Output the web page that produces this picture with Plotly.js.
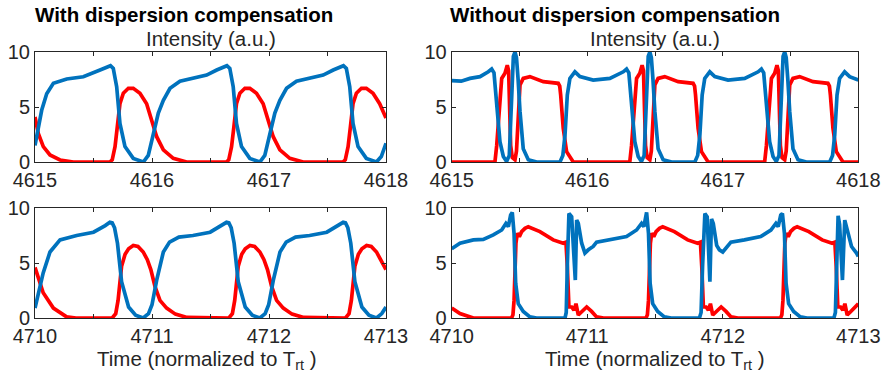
<!DOCTYPE html>
<html>
<head>
<meta charset="utf-8">
<script src="https://cdn.plot.ly/plotly-3.0.1.min.js"></script>
<style>
html,body{margin:0;padding:0;background:#fff;}
#chart{width:889px;height:377px;}
</style>
</head>
<body>
<div id="chart"></div>
<script>
// ---------- Data ----------
// Top-left: with compensation, t = 4615..4618
const tlBlueT = [4615.000,4615.028,4615.057,4615.100,4615.157,4615.271,4615.413,4615.556,4615.620,4615.645,4615.669,4615.698,4615.726,4615.769,4615.840,4615.926,4615.968,4616.011,4616.054,4616.097,4616.154,4616.239,4616.353,4616.467,4616.553,4616.615,4616.640,4616.665,4616.694,4616.722,4616.765,4616.836,4616.922,4616.964,4617.007,4617.050,4617.093,4617.150,4617.235,4617.349,4617.463,4617.549,4617.611,4617.636,4617.661,4617.690,4617.718,4617.761,4617.832,4617.918,4617.960,4618.000];
const tlBlueY = [1.5,3.2,4.7,6.2,7.15,7.55,7.75,8.36,8.7,8.75,8.5,6.85,3.5,1.4,0.33,0,0.6,2.45,4.45,5.6,6.7,7.35,7.6,7.9,8.36,8.7,8.75,8.5,6.85,3.5,1.4,0.33,0,0.6,2.45,4.45,5.6,6.7,7.35,7.6,7.9,8.36,8.7,8.75,8.5,6.85,3.5,1.4,0.33,0,0.5,1.7];
const tlRedT = [4615.000,4615.028,4615.071,4615.128,4615.214,4615.328,4615.640,4615.660,4615.684,4615.704,4615.726,4615.755,4615.798,4615.840,4615.897,4615.954,4615.997,4616.040,4616.097,4616.182,4616.296,4616.636,4616.656,4616.680,4616.700,4616.722,4616.751,4616.794,4616.836,4616.893,4616.950,4616.993,4617.036,4617.093,4617.178,4617.292,4617.632,4617.652,4617.676,4617.696,4617.718,4617.747,4617.790,4617.832,4617.889,4617.946,4618.000];
const tlRedY = [4.1,2.6,1.4,0.64,0.18,0,0,0.2,1.4,3.2,5.3,6.25,6.7,6.7,6.25,5.3,3.8,2.3,1.1,0.33,0,0,0.2,1.4,3.2,5.3,6.25,6.7,6.7,6.25,5.3,3.8,2.3,1.1,0.33,0,0,0.2,1.4,3.2,5.3,6.25,6.7,6.7,6.25,5.3,4.0];

// Bottom-left: with compensation, t = 4710..4713
const blBlueT = [4710.000,4710.030,4710.070,4710.128,4710.214,4710.356,4710.500,4710.600,4710.640,4710.660,4710.680,4710.705,4710.740,4710.800,4710.860,4710.925,4710.970,4711.000,4711.040,4711.097,4711.150,4711.230,4711.350,4711.497,4711.597,4711.637,4711.657,4711.677,4711.702,4711.737,4711.797,4711.857,4711.922,4711.967,4711.997,4712.037,4712.094,4712.147,4712.227,4712.347,4712.494,4712.594,4712.634,4712.654,4712.674,4712.699,4712.734,4712.794,4712.854,4712.919,4712.964,4713.000];
const blBlueY = [0.9,2.3,4.1,6.0,7.1,7.5,7.8,8.4,8.7,8.65,8.2,6.8,3.3,1.0,0.25,0,0.4,1.2,3.45,6.0,6.9,7.35,7.5,7.8,8.4,8.7,8.65,8.2,6.8,3.3,1.0,0.25,0,0.4,1.2,3.45,6.0,6.9,7.35,7.5,7.8,8.4,8.7,8.65,8.2,6.8,3.3,1.0,0.25,0,0.4,1.0];
const blRedT = [4710.000,4710.035,4710.070,4710.157,4710.270,4710.350,4710.660,4710.690,4710.710,4710.740,4710.770,4710.800,4710.840,4710.880,4710.925,4710.960,4710.990,4711.026,4711.068,4711.125,4711.200,4711.300,4711.657,4711.687,4711.707,4711.737,4711.767,4711.797,4711.837,4711.877,4711.922,4711.957,4711.987,4712.023,4712.065,4712.122,4712.197,4712.297,4712.654,4712.684,4712.704,4712.734,4712.764,4712.794,4712.834,4712.874,4712.919,4712.954,4713.000];
const blRedY = [4.6,3.3,2.3,0.9,0.1,0,0,0.4,1.6,4.7,5.8,6.3,6.6,6.5,6.0,5.3,4.4,2.85,1.6,0.9,0.35,0.05,0,0.4,1.6,4.7,5.8,6.3,6.6,6.5,6.0,5.3,4.4,2.85,1.6,0.9,0.35,0.05,0,0.4,1.6,4.7,5.8,6.3,6.6,6.5,6.0,5.3,4.4];

// Top-right: without compensation, t = 4615..4618
const trBlueT = [4615.000,4615.070,4615.135,4615.209,4615.270,4615.295,4615.312,4615.332,4615.356,4615.381,4615.405,4615.425,4615.434,4615.442,4615.455,4615.467,4615.478,4615.490,4615.504,4615.528,4615.565,4615.627,4615.799,4615.820,4615.836,4615.853,4615.872,4615.909,4615.946,4616.044,4616.167,4616.266,4616.290,4616.307,4616.327,4616.351,4616.376,4616.400,4616.420,4616.429,4616.437,4616.450,4616.462,4616.473,4616.485,4616.499,4616.523,4616.560,4616.622,4616.794,4616.815,4616.831,4616.848,4616.867,4616.904,4616.941,4617.039,4617.162,4617.261,4617.285,4617.302,4617.322,4617.346,4617.371,4617.395,4617.415,4617.424,4617.432,4617.445,4617.457,4617.468,4617.480,4617.494,4617.518,4617.555,4617.617,4617.789,4617.810,4617.826,4617.843,4617.862,4617.899,4617.936,4618.000];
const trBlueY = [7.4,7.35,7.6,7.76,8.2,8.45,8.1,5.2,1.85,0.5,0.05,0.6,3.5,7.6,9.6,10,9.5,7.5,4.6,1.2,0.2,0,0,0.6,2.45,6.1,7.6,8.2,7.76,7.45,7.6,8.2,8.45,8.1,5.2,1.85,0.5,0.05,0.6,3.5,7.6,9.6,10,9.5,7.5,4.6,1.2,0.2,0,0,0.6,2.45,6.1,7.6,8.2,7.76,7.45,7.6,8.2,8.45,8.1,5.2,1.85,0.5,0.05,0.6,3.5,7.6,9.6,10,9.5,7.5,4.6,1.2,0.2,0,0,0.6,2.45,6.1,7.6,8.2,7.76,7.45];
const trRedT = [4615.000,4615.319,4615.332,4615.351,4615.369,4615.393,4615.410,4615.420,4615.428,4615.435,4615.447,4615.467,4615.478,4615.486,4615.504,4615.528,4615.577,4615.676,4615.786,4615.797,4615.804,4615.823,4615.848,4615.897,4616.314,4616.327,4616.346,4616.364,4616.388,4616.405,4616.415,4616.423,4616.430,4616.442,4616.462,4616.473,4616.481,4616.499,4616.523,4616.572,4616.671,4616.781,4616.792,4616.799,4616.818,4616.843,4616.892,4617.309,4617.322,4617.341,4617.359,4617.383,4617.400,4617.410,4617.418,4617.425,4617.437,4617.457,4617.468,4617.476,4617.494,4617.518,4617.567,4617.666,4617.776,4617.787,4617.794,4617.813,4617.838,4617.887,4618.000];
const trRedY = [0,0,1.5,5.2,7.6,8.06,8.8,8.3,5.0,1.5,0.4,0.2,1.0,3.1,7.0,7.6,7.76,7.3,7.15,6.9,6.1,3.06,0.94,0,0,1.5,5.2,7.6,8.06,8.8,8.3,5.0,1.5,0.4,0.2,1.0,3.1,7.0,7.6,7.76,7.3,7.15,6.9,6.1,3.06,0.94,0,0,1.5,5.2,7.6,8.06,8.8,8.3,5.0,1.5,0.4,0.2,1.0,3.1,7.0,7.6,7.76,7.3,7.15,6.9,6.1,3.06,0.94,0,0];

// Bottom-right: without compensation, t = 4710..4713
const brBlueT = [4710.000,4710.061,4710.160,4710.233,4710.307,4710.369,4710.400,4710.418,4710.435,4710.447,4710.460,4710.472,4710.491,4710.528,4710.577,4710.627,4710.836,4710.845,4710.853,4710.865,4710.885,4710.902,4710.912,4710.922,4710.934,4710.959,4710.983,4711.008,4711.044,4711.069,4711.167,4711.290,4711.364,4711.401,4711.418,4711.430,4711.438,4711.452,4711.464,4711.483,4711.520,4711.569,4711.619,4711.828,4711.840,4711.851,4711.868,4711.885,4711.897,4711.905,4711.917,4711.930,4711.955,4711.975,4712.000,4712.030,4712.060,4712.160,4712.280,4712.355,4712.392,4712.409,4712.428,4712.440,4712.455,4712.467,4712.486,4712.523,4712.572,4712.622,4712.820,4712.831,4712.840,4712.851,4712.862,4712.869,4712.883,4712.900,4712.925,4712.950,4712.987,4713.000];
const brBlueY = [6.3,6.8,7.1,7.15,7.55,8.0,8.6,8.3,9.36,9.6,7.7,3.15,1.3,0.6,0.1,0,0,0.5,4.7,9.5,9.2,5.3,3.45,8.9,8.6,6.8,5.9,6.2,6.5,6.9,7.1,7.4,8.0,8.6,8.3,9.36,9.6,7.7,3.15,1.3,0.6,0.1,0,0,0.5,4.7,9.5,9.2,5.3,3.3,9.0,8.6,6.6,6.2,6.0,6.5,6.9,7.1,7.4,8.0,8.6,8.3,9.36,9.5,7.7,3.15,1.3,0.6,0.1,0,0,0.5,4.7,9.3,8.5,6.0,3.45,8.9,7.7,6.5,5.9,5.6];
const brRedT = [4710.000,4710.061,4710.160,4710.442,4710.452,4710.460,4710.474,4710.484,4710.499,4710.516,4710.541,4710.565,4710.651,4710.749,4710.823,4710.843,4710.853,4710.865,4710.885,4710.902,4710.917,4710.934,4710.959,4710.996,4711.032,4711.069,4711.120,4711.434,4711.444,4711.452,4711.466,4711.476,4711.491,4711.508,4711.533,4711.557,4711.643,4711.741,4711.815,4711.835,4711.845,4711.857,4711.877,4711.894,4711.909,4711.926,4711.951,4711.988,4712.024,4712.061,4712.112,4712.426,4712.436,4712.444,4712.458,4712.468,4712.483,4712.500,4712.525,4712.549,4712.635,4712.733,4712.807,4712.827,4712.837,4712.849,4712.869,4712.886,4712.901,4712.918,4712.943,4712.980,4713.000];
const brRedY = [0.9,0.4,0,0,0.3,1.6,6.8,7.7,7.4,7.85,8.15,8.3,7.85,7.1,6.8,6.9,4.7,1.0,1.0,0.7,1.3,0.27,0.57,1.0,0.6,0.1,0,0,0.3,1.6,6.8,7.7,7.4,7.85,8.15,8.3,7.85,7.1,6.8,6.9,4.7,1.0,1.0,0.7,1.3,0.27,0.57,1.0,0.6,0.1,0,0,0.3,1.6,6.8,7.7,7.4,7.85,8.15,8.3,7.85,7.1,6.8,6.9,4.7,1.0,1.0,0.7,1.3,0.27,0.57,1.0,1.3];

// Tick labels
const topTicks = [4615,4616,4617,4618];
const topTickText = ['4615','4616','4617','4618'];
const botTicks = [4710,4711,4712,4713];
const botTickText = ['4710','4711','4712','4713'];
const yTicks = [0,5,10];
const yTickText = ['0','5','10'];

const titleLeft = 'With dispersion compensation';
const titleRight = 'Without dispersion compensation';
const yLabel = 'Intensity (a.u.)';
const xLabel = 'Time (normalized to T<sub>rt</sub> )';

// ---------- Figure ----------
const W = 889, H = 377;
const RED = '#ff0000', BLUE = '#0072bd', AX = '#262626';
const FONT = 'Liberation Sans, Arial, Helvetica, sans-serif';
const LW = 3.7;

function px(a){ return a / W; }
function py(b){ return 1 - b / H; }

function line(t, y, color, xa, ya){
  return {x: t, y: y, type: 'scatter', mode: 'lines', xaxis: xa, yaxis: ya,
    line: {color: color, width: LW, shape: 'linear'}, cliponaxis: false, hoverinfo: 'skip'};
}

const data = [
  line(tlRedT, tlRedY, RED, 'x', 'y'),
  line(tlBlueT, tlBlueY, BLUE, 'x', 'y'),
  line(trRedT, trRedY, RED, 'x2', 'y2'),
  line(trBlueT, trBlueY, BLUE, 'x2', 'y2'),
  line(blRedT, blRedY, RED, 'x3', 'y3'),
  line(blBlueT, blBlueY, BLUE, 'x3', 'y3'),
  line(brRedT, brRedY, RED, 'x4', 'y4'),
  line(brBlueT, brBlueY, BLUE, 'x4', 'y4')
];

function xax(dom, range, vals, text, anchor){
  return {domain: dom, range: range, anchor: anchor, tickvals: vals, ticktext: text,
    ticks: 'inside', ticklen: 4, tickwidth: 1, tickcolor: AX, mirror: 'ticks',
    minor: {ticks: 'inside', tick0: range[0], dtick: 0.5, ticklen: 4, tickwidth: 1, tickcolor: AX, showgrid: false},
    showline: true, linecolor: AX, linewidth: 1, showgrid: false, zeroline: false,
    tickfont: {family: FONT, size: 20, color: AX}, fixedrange: true};
}
function yax(dom, anchor){
  return {domain: dom, range: [0, 10], anchor: anchor, tickvals: yTicks, ticktext: yTickText,
    ticks: 'inside', ticklen: 4, tickwidth: 1, tickcolor: AX, mirror: 'ticks',
    showline: true, linecolor: AX, linewidth: 1, showgrid: false, zeroline: false,
    tickfont: {family: FONT, size: 20, color: AX}, fixedrange: true};
}

const LX = [px(35), px(386)];
const RX = [px(451.7), px(858.3)];
const TY = [py(162), py(52)];
const BY = [py(318), py(208)];

const TF = 20.5;
const layout = {
  width: W, height: H,
  margin: {l: 0, r: 0, t: 0, b: 0},
  paper_bgcolor: '#ffffff', plot_bgcolor: '#ffffff',
  showlegend: false,
  font: {family: FONT, color: AX},
  xaxis:  xax(LX, [4615, 4618], topTicks, topTickText, 'y'),
  yaxis:  yax(TY, 'x'),
  xaxis2: xax(RX, [4615, 4618], topTicks, topTickText, 'y2'),
  yaxis2: yax(TY, 'x2'),
  xaxis3: xax(LX, [4710, 4713], botTicks, botTickText, 'y3'),
  yaxis3: yax(BY, 'x3'),
  xaxis4: xax(RX, [4710, 4713], botTicks, botTickText, 'y4'),
  yaxis4: yax(BY, 'x4'),
  annotations: [
    {text: '<b>' + titleLeft + '</b>', x: px(33), y: py(14), xref: 'paper', yref: 'paper',
     xanchor: 'left', yanchor: 'middle', showarrow: false, font: {family: FONT, size: TF, color: '#000'}},
    {text: '<b>' + titleRight + '</b>', x: px(448), y: py(14), xref: 'paper', yref: 'paper',
     xanchor: 'left', yanchor: 'middle', showarrow: false, font: {family: FONT, size: TF, color: '#000'}},
    {text: yLabel, x: px(210.5), y: py(39), xref: 'paper', yref: 'paper',
     xanchor: 'center', yanchor: 'middle', showarrow: false, font: {family: FONT, size: TF, color: AX}},
    {text: yLabel, x: px(655), y: py(39), xref: 'paper', yref: 'paper',
     xanchor: 'center', yanchor: 'middle', showarrow: false, font: {family: FONT, size: TF, color: AX}},
    {text: xLabel, x: px(207), y: py(360), xref: 'paper', yref: 'paper',
     xanchor: 'center', yanchor: 'middle', showarrow: false, font: {family: FONT, size: TF, color: AX}},
    {text: xLabel, x: px(655), y: py(360), xref: 'paper', yref: 'paper',
     xanchor: 'center', yanchor: 'middle', showarrow: false, font: {family: FONT, size: TF, color: AX}}
  ]
};

Plotly.newPlot('chart', data, layout, {displayModeBar: false, staticPlot: true});
</script>
</body>
</html>
